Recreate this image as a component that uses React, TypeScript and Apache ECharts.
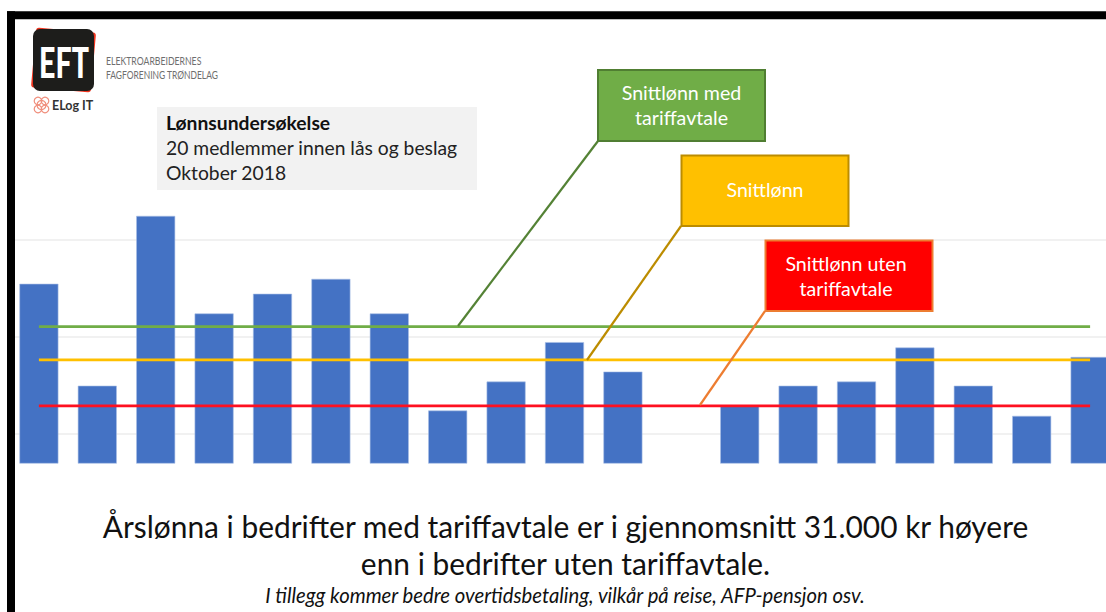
import React, { useEffect, useRef } from "react";
import * as echarts from "echarts";

const FONT = "Lato, Carlito, sans-serif";

const categories = ["1","2","3","4","5","6","7","8","9","10","11","12","13","14","15","16","17","18","19"];
const wages = [541800,499900,569700,529600,537700,543800,529600,489700,501600,517800,505700,null,491600,499900,501600,515600,499900,487500,511700];
const avgWithAgreement = 524200;
const avgAll = 510500;
const avgWithoutAgreement = 491600;
const gridValues = [480000, 520000, 560000];

const infoLines = ["Lønnsundersøkelse", "20 medlemmer innen lås og beslag", "Oktober 2018"];
const headline = [
  "Årslønna i bedrifter med tariffavtale er i gjennomsnitt 31.000 kr høyere",
  "enn i bedrifter uten tariffavtale.",
];
const footnote = "I tillegg kommer bedre overtidsbetaling, vilkår på reise, AFP-pensjon osv.";
const orgLines = ["ELEKTROARBEIDERNES", "FAGFORENING TRØNDELAG"];

const flat = (v: number) => categories.map(() => v);

const txt = (text: string, x: number, y: number, font: string, fill: string, textAlign = "left", extra: any = {}) => ({
  type: "text", x, y, z: 60, silent: true, ...extra,
  style: { text, font, fill, textAlign, textVerticalAlign: "middle" },
});

const box = (x: number, y: number, width: number, height: number, fill: string, stroke: string, lineWidth = 2) => ({
  type: "rect", z: 50, silent: true,
  shape: { x, y, width, height },
  style: { fill, stroke, lineWidth },
});

const seg = (x1: number, y1: number, x2: number, y2: number, stroke: string) => ({
  type: "line", z: 45, silent: true,
  shape: { x1, y1, x2, y2 },
  style: { stroke, lineWidth: 2.2 },
});

const flowerCircle = (cx: number, cy: number, r: number) => ({
  type: "circle", z: 60, silent: true,
  shape: { cx, cy, r },
  style: { fill: "none", stroke: "#F0907E", lineWidth: 1.2 },
});

export default function App() {
  const ref = useRef<HTMLDivElement>(null);
  useEffect(() => {
    const chart = echarts.init(ref.current!, undefined, { renderer: "svg" });
    const lineSeries = (name: string, v: number, color: string) => ({
      name, type: "line", data: flat(v), symbol: "none", z: 3, silent: true,
      lineStyle: { color, width: 2.6, cap: "butt" },
    });
    chart.setOption({
      animation: false,
      backgroundColor: "#ffffff",
      grid: { left: 9.7, top: 30.3, width: 1109.6, height: 433, containLabel: false },
      xAxis: { type: "category", data: categories, show: false },
      yAxis: { type: "value", min: 468000, max: 646000, show: false, splitLine: { show: false } },
      series: [
        {
          name: "Rutenett", type: "line", data: [], z: 1, silent: true,
          markLine: {
            z: 1, silent: true, symbol: "none", animation: false, label: { show: false },
            lineStyle: { color: "#EDEDED", width: 1.5, type: "solid" },
            data: gridValues.map((yAxis) => ({ yAxis })),
          },
        },
        { name: "Årslønn", type: "bar", data: wages, barWidth: 39, z: 2, silent: true,
          itemStyle: { color: "#4472C4", borderColor: "#A9BFE6", borderWidth: 0.6 } },
        lineSeries("Snittlønn med tariffavtale", avgWithAgreement, "#70AD47"),
        lineSeries("Snittlønn", avgAll, "#FFC000"),
        lineSeries("Snittlønn uten tariffavtale", avgWithoutAgreement, "#FF1020"),
      ],
      graphic: {
        elements: [
          // Frame
          { type: "rect", z: 40, silent: true, shape: { x: 7, y: 11.3, width: 1099, height: 8 }, style: { fill: "#000" } },
          { type: "rect", z: 40, silent: true, shape: { x: 7, y: 11.3, width: 8, height: 601 }, style: { fill: "#000" } },

          // Logo
          { type: "rect", z: 50, silent: true, x: 63.5, y: 60, rotation: -0.09, shape: { x: -30, y: -30, width: 60, height: 60, r: 3 }, style: { fill: "#F0341E" } },
          { type: "rect", z: 51, silent: true, shape: { x: 33, y: 29, width: 61, height: 62, r: 7 }, style: { fill: "#1D1D1B" } },
          txt("EFT", 64, 62.5, `900 42px ${FONT}`, "#ffffff", "center", { z: 52, scaleX: 0.68 }),
          txt(orgLines[0], 106, 60.5, `11px ${FONT}`, "#6E6E6E", "left", { scaleX: 0.79 }),
          txt(orgLines[1], 106, 75, `11px ${FONT}`, "#6E6E6E", "left", { scaleX: 0.77 }),
          flowerCircle(41.5, 105, 4.5),
          flowerCircle(38, 101, 3.8),
          flowerCircle(45, 101, 3.8),
          flowerCircle(38, 109, 3.8),
          flowerCircle(45, 109, 3.8),
          txt("ELog IT", 52, 105, `bold 12.5px ${FONT}`, "#333333"),

          // Info box
          { type: "rect", z: 50, silent: true, shape: { x: 157, y: 107, width: 320, height: 83 }, style: { fill: "#F2F2F2" } },
          txt(infoLines[0], 166, 122.5, `bold 19.3px ${FONT}`, "#111111"),
          txt(infoLines[1], 166, 147.5, `19.3px ${FONT}`, "#222222"),
          txt(infoLines[2], 166, 172.5, `19.3px ${FONT}`, "#222222"),

          // Leaders
          seg(598, 141, 458, 326, "#548235"),
          seg(681, 226, 587, 360, "#BC8C00"),
          seg(765, 311, 700, 405, "#ED7D31"),

          // Callouts
          box(598, 70, 167, 71, "#70AD47", "#507E32"),
          txt("Snittlønn med", 681.5, 92.5, `19.6px ${FONT}`, "#ffffff", "center"),
          txt("tariffavtale", 681.5, 117.5, `19.6px ${FONT}`, "#ffffff", "center"),
          box(681.5, 155.5, 167, 70.5, "#FFC000", "#BC8C00"),
          txt("Snittlønn", 765, 189.5, `19.6px ${FONT}`, "#ffffff", "center"),
          box(765.5, 240.5, 167, 70.5, "#FF0000", "#ED7D31"),
          txt("Snittlønn uten", 846, 263.5, `19.6px ${FONT}`, "#ffffff", "center"),
          txt("tariffavtale", 846, 288.5, `19.6px ${FONT}`, "#ffffff", "center"),

          // Headline
          txt(headline[0], 565.5, 525.5, `29.9px ${FONT}`, "#111111", "center"),
          txt(headline[1], 565.5, 562.5, `29.9px ${FONT}`, "#111111", "center"),
          txt(footnote, 565, 595, `italic 20.3px ${FONT}`, "#111111", "center"),
        ],
      },
    });
    return () => chart.dispose();
  }, []);
  return (
    <div style={{ position: "absolute", left: 0, top: 0, width: 1106, height: 612, overflow: "hidden" }}>
      <div ref={ref} style={{ width: 1130, height: 612 }} />
    </div>
  );
}
